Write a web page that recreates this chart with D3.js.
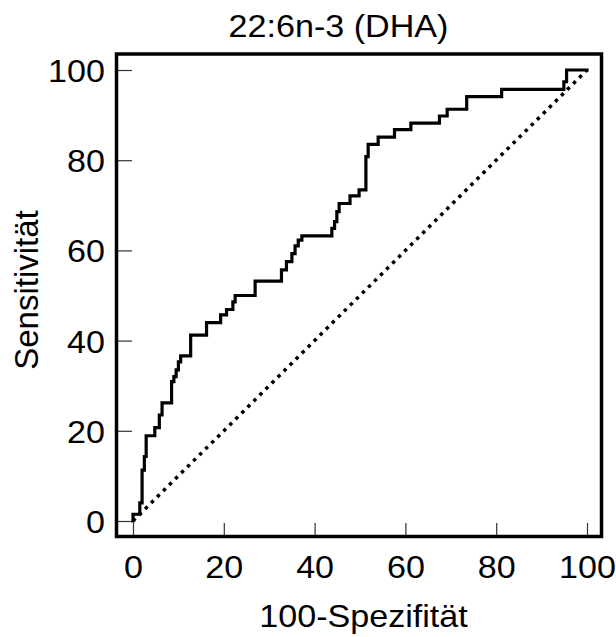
<!DOCTYPE html>
<html>
<head>
<meta charset="utf-8">
<script src="https://cdn.jsdelivr.net/npm/d3@7"></script>
<style>
  html, body { margin: 0; padding: 0; background: #fff; }
  svg { display: block; }
  text { font-family: "Liberation Sans", Arial, sans-serif; fill: #000; }
</style>
</head>
<body>
<svg id="chart" width="616" height="637"></svg>
<script>
/* ROC curve, 22:6n-3 (DHA) — corner points of the step curve */
const title = "22:6n-3 (DHA)";
const xLabel = "100-Spezifität";
const yLabel = "Sensitivität";

// 100-specificity (x) and sensitivity (y) at each step corner
const fpr = [0, 0, 1.5, 2.0, 2.5, 2.9, 4.8, 5.8, 6.4, 8.5,
             9.0, 9.5, 10.0, 10.5, 12.7, 16.2, 19.3, 20.6, 22.0, 22.5,
             26.9, 32.7, 33.8, 35.0, 35.7, 36.4, 37.2, 43.8, 44.4, 44.9,
             45.4, 47.8, 49.8, 51.3, 51.8, 54.0, 57.6, 61.2, 67.5, 69.2,
             73.5, 81.2, 94.9, 95.5, 100];
const tpr = [0, 1.5, 4.0, 11.3, 14.3, 18.9, 20.7, 23.5, 26.2, 30.9,
             32.0, 33.5, 35.3, 36.6, 41.2, 44.0, 45.7, 46.9, 48.6, 50.0,
             53.2, 55.7, 57.5, 59.3, 61.0, 62.3, 63.2, 64.9, 66.4, 68.6,
             70.4, 72.1, 73.4, 80.8, 83.5, 85.1, 86.8, 88.2, 89.8, 91.3,
             94.1, 95.7, 97.4, 100, 100];

// reference diagonal
const diagX = [0, 100];
const diagY = [0, 100];

const majorTicks = [0, 20, 40, 60, 80, 100];
const minorTicks = [5, 10, 15, 25, 30, 35, 45, 50, 55, 65, 70, 75, 85, 90, 95];

/* ---------- layout ---------- */
const frame = { left: 116.5, top: 54, right: 601.5, bottom: 536.5 };
const FS = 31;          // font size
const SX = 1.1;         // reference text is a little wider than Arial

const svg = d3.select("#chart");

const x = d3.scaleLinear().domain([0, 100]).range([133, 587]);
const y = d3.scaleLinear().domain([0, 100]).range([521, 70]);

/* ---------- ticks (inside the frame) ---------- */
const gx = svg.append("g").attr("transform", `translate(0,${frame.bottom})`);
gx.call(d3.axisBottom(x).tickValues(minorTicks).tickSizeInner(-7.5).tickSizeOuter(0).tickFormat(""));
gx.call(d3.axisBottom(x).tickValues(majorTicks).tickSizeInner(-13.5).tickSizeOuter(0).tickPadding(0));
gx.select(".domain").remove();
gx.selectAll("line").attr("stroke", "#333").attr("stroke-width", 1.2);
gx.selectAll("text")
  .attr("y", 0).attr("dy", 0)
  .attr("font-size", FS)
  .attr("font-family", null)
  .attr("transform", `translate(0,41.5) scale(${SX},1)`);

const gy = svg.append("g").attr("transform", `translate(${frame.left},0)`);
gy.call(d3.axisLeft(y).tickValues(minorTicks).tickSizeInner(-9.5).tickSizeOuter(0).tickFormat(""));
gy.call(d3.axisLeft(y).tickValues(majorTicks).tickSizeInner(-15.5).tickSizeOuter(0).tickPadding(0));
gy.select(".domain").remove();
gy.selectAll("line").attr("stroke", "#333").attr("stroke-width", 1.2);
gy.selectAll("text")
  .attr("x", 0).attr("dy", 0)
  .attr("font-size", FS)
  .attr("font-family", null)
  .attr("transform", `translate(-11.5,11.5) scale(${SX},1)`);

/* ---------- diagonal + ROC curve ---------- */
svg.append("path")
  .datum(diagX.map((d, i) => [d, diagY[i]]))
  .attr("d", d3.line().x(d => x(d[0])).y(d => y(d[1])))
  .attr("fill", "none")
  .attr("stroke", "#000")
  .attr("stroke-width", 3.5)
  .attr("stroke-dasharray", "3.5,5");

svg.append("path")
  .datum(fpr.map((d, i) => [d, tpr[i]]))
  .attr("d", d3.line().x(d => x(d[0])).y(d => y(d[1])).curve(d3.curveStepAfter))
  .attr("fill", "none")
  .attr("stroke", "#000")
  .attr("stroke-width", 3.2)
  .attr("stroke-linejoin", "miter")
  .attr("stroke-linecap", "square");

/* ---------- frame ---------- */
svg.append("rect")
  .attr("x", frame.left).attr("y", frame.top)
  .attr("width", frame.right - frame.left)
  .attr("height", frame.bottom - frame.top)
  .attr("fill", "none")
  .attr("stroke", "#000")
  .attr("stroke-width", 3.5);

/* ---------- titles ---------- */
svg.append("text")
  .attr("text-anchor", "middle")
  .attr("font-size", FS)
  .attr("transform", `translate(338.5,36.5) scale(${SX},1)`)
  .text(title);

svg.append("text")
  .attr("text-anchor", "middle")
  .attr("font-size", FS)
  .attr("transform", `translate(363.5,626.5) scale(${SX},1)`)
  .text(xLabel);

svg.append("text")
  .attr("text-anchor", "middle")
  .attr("font-size", 33)
  .attr("transform", "translate(38,290) rotate(-90)")
  .text(yLabel);
</script>
</body>
</html>
